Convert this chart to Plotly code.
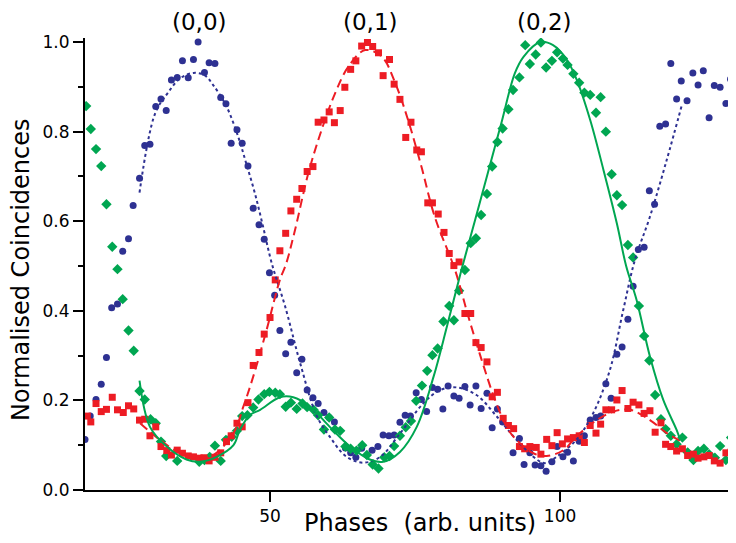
import plotly.graph_objects as go

# ---------------- data ----------------
blue_x = [18.1, 19.0, 20.0, 20.9, 21.8, 22.7, 23.7, 24.6, 25.6, 26.4, 27.5, 28.4, 29.3, 30.3, 31.2, 32.1,
          33.0, 34.0, 34.9, 35.9, 36.8, 37.6, 38.7, 39.5, 40.5, 41.5, 42.4, 43.3, 44.3, 45.2, 46.2, 47.1,
          48.1, 49.0, 49.9, 50.8, 51.7, 52.7, 53.6, 54.6, 55.5, 56.4, 57.4, 58.3, 59.3, 60.2, 61.1, 63.0,
          63.9, 64.8, 65.8, 67.6, 68.6, 69.5, 70.5, 71.4, 72.4, 73.3, 74.2, 75.2, 76.1, 77.0, 78.0, 78.9,
          79.8, 80.7, 81.7, 82.6, 83.6, 84.5, 85.5, 86.4, 87.4, 88.3, 89.2, 90.1, 91.9, 93.0, 93.8, 94.8,
          95.7, 96.7, 97.6, 98.6, 99.5, 100.5, 101.3, 102.3, 103.3, 104.2, 105.2, 106.2, 107.0, 107.9,
          108.8, 109.8, 110.7, 111.7, 112.6, 113.5, 114.5, 115.4, 116.3, 117.2, 118.2, 119.1, 120.1,
          120.9, 121.9, 122.9, 123.8, 124.7, 125.7, 126.6, 127.6, 128.6, 129.4, 130.3]
blue_y = [0.113, 0.165, 0.202, 0.236, 0.296, 0.407, 0.415, 0.533, 0.561, 0.635, 0.696, 0.769, 0.772, 0.856,
          0.873, 0.847, 0.915, 0.921, 0.958, 0.920, 0.961, 1.000, 0.932, 0.954, 0.952, 0.876, 0.862, 0.774,
          0.804, 0.774, 0.723, 0.629, 0.592, 0.560, 0.485, 0.435, 0.356, 0.304, 0.330, 0.262, 0.292, 0.223,
          0.206, 0.193, 0.173, 0.162, 0.152, 0.094, 0.083, 0.073, 0.093, 0.089, 0.097, 0.123, 0.121, 0.123,
          0.151, 0.167, 0.165, 0.217, 0.202, 0.175, 0.229, 0.225, 0.181, 0.232, 0.210, 0.205, 0.231, 0.190,
          0.232, 0.182, 0.216, 0.139, 0.181, 0.152, 0.083, 0.115, 0.057, 0.083, 0.056, 0.054, 0.042, 0.063,
          0.097, 0.074, 0.084, 0.065, 0.109, 0.121, 0.156, 0.162, 0.165, 0.237, 0.205, 0.303, 0.319, 0.381,
          0.455, 0.537, 0.542, 0.668, 0.638, 0.812, 0.817, 0.952, 0.873, 0.913, 0.869, 0.931, 0.904, 0.936,
          0.831, 0.903, 0.899, 0.863, 0.917, 0.874]

red_x = [18.5, 19.1, 20.0, 20.9, 21.8, 22.8, 23.7, 24.7, 25.6, 26.5, 27.5, 28.4, 29.3, 30.3, 31.2, 32.2,
         33.0, 34.0, 34.9, 35.9, 36.8, 37.8, 38.6, 39.5, 40.5, 41.5, 42.5, 43.3, 44.3, 45.2, 46.2, 47.1,
         48.1, 49.0, 50.0, 50.9, 51.7, 52.7, 53.6, 54.6, 55.5, 56.4, 57.4, 58.3, 59.3, 60.2, 61.1, 62.1,
         62.9, 63.9, 64.8, 65.8, 66.8, 67.7, 68.7, 69.5, 70.6, 71.4, 72.4, 73.4, 74.3, 75.3, 76.1, 77.2,
         78.0, 79.0, 80.0, 80.9, 81.7, 82.6, 83.6, 84.6, 85.5, 86.4, 87.4, 88.3, 89.2, 90.2, 91.1, 92.0,
         93.0, 93.9, 94.8, 95.9, 96.7, 97.7, 98.6, 99.5, 100.4, 101.3, 102.3, 103.3, 104.2, 105.2, 106.2,
         107.0, 107.9, 108.9, 109.8, 110.7, 111.7, 112.6, 113.6, 114.5, 115.5, 116.4, 117.4, 118.2, 119.1,
         120.1, 121.1, 122.0, 123.0, 123.8, 124.8, 125.7, 126.6, 127.6, 128.6, 129.5, 130.3]
red_y = [0.165, 0.152, 0.193, 0.175, 0.180, 0.207, 0.179, 0.173, 0.188, 0.181, 0.156, 0.158, 0.121, 0.141,
         0.097, 0.088, 0.078, 0.089, 0.082, 0.076, 0.074, 0.071, 0.072, 0.065, 0.073, 0.083, 0.108, 0.121,
         0.149, 0.141, 0.195, 0.278, 0.307, 0.348, 0.385, 0.469, 0.534, 0.573, 0.623, 0.649, 0.673, 0.711,
         0.722, 0.821, 0.826, 0.844, 0.820, 0.847, 0.899, 0.939, 0.958, 0.991, 0.999, 0.990, 0.976, 0.925,
         0.961, 0.906, 0.872, 0.787, 0.821, 0.759, 0.755, 0.641, 0.641, 0.616, 0.575, 0.528, 0.501, 0.509,
         0.394, 0.394, 0.329, 0.318, 0.286, 0.208, 0.218, 0.160, 0.144, 0.137, 0.097, 0.092, 0.097, 0.095,
         0.080, 0.113, 0.099, 0.128, 0.103, 0.114, 0.117, 0.121, 0.106, 0.144, 0.127, 0.147, 0.179, 0.179,
         0.201, 0.222, 0.182, 0.196, 0.190, 0.171, 0.177, 0.129, 0.150, 0.102, 0.097, 0.087, 0.092, 0.077,
         0.080, 0.071, 0.074, 0.077, 0.065, 0.060, 0.083, 0.085, 0.112]

green_x = [18.3, 19.1, 20.0, 20.9, 21.8, 22.8, 23.7, 24.6, 25.6, 26.5, 27.5, 28.4, 29.4, 30.3, 31.2, 32.1,
           34.0, 37.8, 38.7, 39.6, 40.5, 41.5, 42.4, 43.4, 44.3, 45.2, 46.1, 47.1, 48.0, 49.0, 49.9, 50.9,
           51.7, 52.7, 53.6, 54.6, 55.6, 56.4, 57.5, 58.3, 59.3, 60.2, 61.2, 62.1, 63.0, 63.9, 64.9, 65.9,
           66.7, 67.7, 68.7, 69.7, 70.6, 71.4, 72.4, 73.4, 74.3, 75.2, 76.2, 77.1, 78.0, 78.9, 79.9, 80.9,
           81.7, 82.6, 83.6, 84.6, 85.5, 86.4, 87.4, 88.3, 89.2, 90.1, 91.1, 91.9, 93.0, 94.0, 94.8, 95.8,
           96.7, 97.6, 98.6, 99.5, 100.5, 101.3, 102.3, 103.3, 104.2, 105.2, 106.2, 107.0, 107.9, 108.9,
           109.8, 110.7, 111.7, 112.6, 113.6, 114.5, 115.4, 116.4, 117.4, 118.2, 119.1, 120.1, 121.1, 122.0,
           123.0, 123.8, 124.8, 125.7, 126.7, 127.6, 128.6, 129.5, 130.3]
green_y = [0.857, 0.806, 0.761, 0.723, 0.638, 0.543, 0.493, 0.426, 0.356, 0.311, 0.221, 0.202, 0.158, 0.149,
           0.108, 0.076, 0.065, 0.063, 0.067, 0.074, 0.099, 0.065, 0.112, 0.119, 0.132, 0.165, 0.167, 0.184,
           0.202, 0.214, 0.219, 0.217, 0.214, 0.186, 0.195, 0.181, 0.193, 0.185, 0.179, 0.167, 0.135, 0.162,
           0.135, 0.132, 0.097, 0.092, 0.088, 0.100, 0.078, 0.057, 0.048, 0.073, 0.076, 0.098, 0.121, 0.140,
           0.154, 0.199, 0.233, 0.266, 0.301, 0.316, 0.376, 0.411, 0.379, 0.445, 0.491, 0.551, 0.562, 0.614,
           0.661, 0.722, 0.777, 0.807, 0.850, 0.893, 0.921, 0.993, 0.951, 0.972, 0.999, 0.943, 0.958, 0.977,
           0.963, 0.949, 0.929, 0.909, 0.887, 0.882, 0.842, 0.877, 0.800, 0.705, 0.658, 0.636, 0.547, 0.519,
           0.411, 0.344, 0.289, 0.212, 0.158, 0.136, 0.121, 0.102, 0.117, 0.084, 0.067, 0.087, 0.092, 0.080,
           0.072, 0.098, 0.067, 0.117, 0.106]

# fitted curves
blue_fit_x = [27.5, 30.2, 32.3, 34.5, 36.8, 38.7, 40.2, 42.5, 44.5, 45.9, 47.4, 48.8, 50.3, 52.6, 55.2,
              58.0, 60.3, 63.2, 66.1, 69.0, 72.4, 76.4, 79.3, 82.2, 85.6, 89.1, 92.5, 96.0, 97.5, 99.4,
              102.8, 105.7, 108.6, 110.9, 112.9, 115.5, 118.4, 121.0]
blue_fit_y = [0.664, 0.841, 0.885, 0.919, 0.931, 0.926, 0.904, 0.856, 0.789, 0.729, 0.662, 0.588, 0.506,
              0.410, 0.283, 0.167, 0.119, 0.074, 0.061, 0.074, 0.126, 0.193, 0.223, 0.229, 0.212, 0.164,
              0.112, 0.068, 0.060, 0.074, 0.112, 0.171, 0.268, 0.402, 0.513, 0.610, 0.737, 0.859]

red_fit_x = [27.6, 31.0, 34.5, 37.4, 40.2, 43.7, 45.4, 47.1, 49.4, 51.7, 52.8, 54.3, 56.6, 58.9, 61.2,
             63.5, 66.4, 69.3, 71.6, 73.8, 76.1, 78.4, 81.9, 84.2, 86.5, 88.8, 91.1, 92.5, 95.4, 97.7,
             100.6, 102.8, 106.3, 109.2, 112.1, 115.5, 118.4, 121.0]
red_fit_y = [0.149, 0.112, 0.082, 0.071, 0.078, 0.127, 0.186, 0.253, 0.357, 0.469, 0.506, 0.580, 0.707,
             0.804, 0.885, 0.945, 0.982, 0.967, 0.908, 0.826, 0.722, 0.610, 0.491, 0.387, 0.290, 0.201,
             0.134, 0.112, 0.082, 0.076, 0.089, 0.119, 0.156, 0.175, 0.179, 0.156, 0.127, 0.108]

green_fit_x = [27.5, 29.3, 32.2, 35.6, 37.9, 40.8, 43.7, 44.8, 46.5, 48.3, 51.7, 54.0, 56.9, 60.3, 63.8,
               67.2, 69.5, 72.4, 75.3, 78.2, 80.5, 83.0, 85.3, 87.6, 89.9, 92.2, 93.7, 96.6, 98.8, 101.2,
               102.9, 105.2, 107.5, 109.8, 111.4, 113.2, 115.5, 117.8, 120.1, 120.7]
green_fit_y = [0.244, 0.141, 0.097, 0.068, 0.063, 0.074, 0.100, 0.134, 0.167, 0.179, 0.207, 0.207, 0.186,
               0.141, 0.097, 0.068, 0.063, 0.085, 0.141, 0.253, 0.365, 0.491, 0.600, 0.710, 0.820, 0.930,
               0.967, 1.000, 0.993, 0.960, 0.915, 0.826, 0.714, 0.595, 0.500, 0.424, 0.298, 0.201, 0.134,
               0.112]

peak_labels = ["(0,0)", "(0,1)", "(0,2)"]
peak_label_x = [37.9, 67.4, 97.4]

x_tick_vals = [50, 100]

# ---------------- styling ----------------
BLUE = "#2E3192"
RED = "#ED1C24"
GREEN = "#00A651"
FONT = "DejaVu Sans"

fig = go.Figure()

fig.add_trace(go.Scatter(x=blue_x, y=blue_y, mode="markers",
                         marker=dict(symbol="circle", size=7, color=BLUE)))
fig.add_trace(go.Scatter(x=green_x, y=green_y, mode="markers",
                         marker=dict(symbol="diamond", size=8, color=GREEN)))
fig.add_trace(go.Scatter(x=red_x, y=red_y, mode="markers",
                         marker=dict(symbol="square", size=7, color=RED)))

fig.add_trace(go.Scatter(x=blue_fit_x, y=blue_fit_y, mode="lines",
                         line=dict(color=BLUE, width=2, dash="dot", shape="spline", smoothing=1.0)))
fig.add_trace(go.Scatter(x=red_fit_x, y=red_fit_y, mode="lines",
                         line=dict(color=RED, width=2, dash="9px,5px", shape="spline", smoothing=1.0)))
fig.add_trace(go.Scatter(x=green_fit_x, y=green_fit_y, mode="lines",
                         line=dict(color=GREEN, width=2, shape="spline", smoothing=1.0)))

annotations = []
for lab, lx in zip(peak_labels, peak_label_x):
    annotations.append(dict(x=lx, xref="x", y=1.036, yref="paper", text=lab, showarrow=False,
                            xanchor="center", yanchor="middle",
                            font=dict(family=FONT, size=23, color="black")))
annotations.append(dict(x=0.5146, xref="paper", y=-0.073, yref="paper",
                        text="Phases&nbsp;&nbsp;(arb. units)", showarrow=False,
                        xanchor="center", yanchor="middle",
                        font=dict(family=FONT, size=24, color="black")))
annotations.append(dict(x=-0.0983, xref="paper", y=0.4867, yref="paper",
                        text="Normalised Coincidences", showarrow=False, textangle=-90,
                        xanchor="center", yanchor="middle",
                        font=dict(family=FONT, size=24, color="black")))

# the page body adds an 8px offset, so the figure is sized/margined to compensate
fig.update_layout(
    width=728, height=535,
    margin=dict(l=77, r=0, t=30, b=53),
    plot_bgcolor="white", paper_bgcolor="white",
    showlegend=False,
    annotations=annotations,
    xaxis=dict(range=[18.1, 130.34], showline=True, linecolor="black", linewidth=2,
               ticks="outside", ticklen=10, tickwidth=2, tickcolor="black",
               tickvals=x_tick_vals, showgrid=False, zeroline=False, automargin=False,
               tickfont=dict(family=FONT, size=17, color="black")),
    yaxis=dict(range=[0, 1.009], showline=True, linecolor="black", linewidth=2,
               ticks="outside", ticklen=10, tickwidth=2, tickcolor="black",
               dtick=0.2, tick0=0, tickformat=".1f", showgrid=False, zeroline=False,
               automargin=False,
               minor=dict(dtick=0.1, ticks="outside", ticklen=5, tickwidth=2, tickcolor="black",
                          showgrid=False),
               tickfont=dict(family=FONT, size=17, color="black")),
)

fig.write_html("out.html")
